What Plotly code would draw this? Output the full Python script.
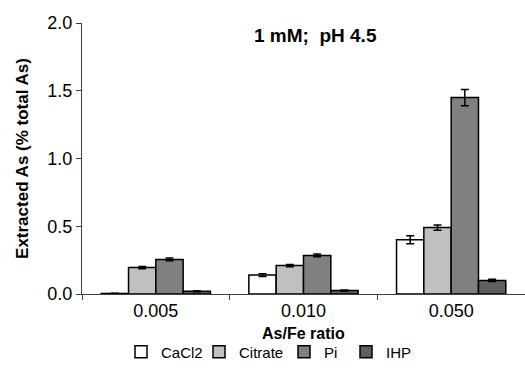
import plotly.graph_objects as go

categories = ["0.005", "0.010", "0.050"]
series_names = ["CaCl2", "Citrate", "Pi", "IHP"]
cacl2 = [0.004, 0.14, 0.40]
citrate = [0.195, 0.21, 0.49]
pi = [0.255, 0.285, 1.45]
ihp = [0.02, 0.025, 0.10]
cacl2_err = [0.002, 0.01, 0.03]
citrate_err = [0.008, 0.008, 0.02]
pi_err = [0.01, 0.01, 0.06]
ihp_err = [0.004, 0.004, 0.008]
colors = ["#ffffff", "#c0c0c0", "#808080", "#5f5f5f"]
x_title = "As/Fe ratio"
y_title = "Extracted As (% total As)"
chart_title = "1 mM;  pH 4.5"

legend_ids = ["legend", "legend2", "legend3", "legend4"]
legend_x_px = [121, 199, 284, 346]

fig = go.Figure()
for name, vals, errs, col, lid in zip(series_names, [cacl2, citrate, pi, ihp],
                                      [cacl2_err, citrate_err, pi_err, ihp_err],
                                      colors, legend_ids):
    fig.add_trace(go.Bar(
        name=name, x=categories, y=vals, legend=lid,
        marker=dict(color=col, line=dict(color="black", width=1.5)),
        error_y=dict(type="data", array=errs, color="black", thickness=1.5, width=4),
    ))

font_family = "Liberation Sans, Arial, sans-serif"
legend_common = dict(orientation="h", xref="container", xanchor="left",
                     y=0.03, yref="container", yanchor="bottom",
                     font=dict(size=15), itemwidth=30, bgcolor="rgba(0,0,0,0)")
fig.update_layout(
    width=525, height=380,
    margin=dict(l=82, r=0, t=23, b=86, autoexpand=False),
    plot_bgcolor="white", paper_bgcolor="white",
    barmode="group", bargap=0.26, bargroupgap=0,
    font=dict(family=font_family, size=18, color="black"),
    showlegend=True,
    annotations=[
        dict(text="<b>" + chart_title + "</b>", x=0.528, xref="paper", y=2.0, yref="y",
             yanchor="top", xanchor="center", showarrow=False, font=dict(size=19)),
        dict(text="<b>" + x_title + "</b>", x=0.5, xref="paper", y=-0.146, yref="paper",
             yanchor="middle", xanchor="center", showarrow=False, font=dict(size=16)),
    ],
)
for lid, xp in zip(legend_ids, legend_x_px):
    fig.update_layout({lid: dict(legend_common, x=xp / 525)})

fig.update_xaxes(
    type="category", showline=True, linecolor="#404040", linewidth=1,
    ticks="outside", tickson="boundaries", ticklen=5, tickcolor="#404040",
    showgrid=False,
)
fig.update_yaxes(
    range=[0, 2.0], tickvals=[0, 0.5, 1.0, 1.5, 2.0], tickformat=".1f",
    showline=True, linecolor="#404040", linewidth=1,
    ticks="outside", ticklen=5, tickcolor="#404040",
    title=dict(text="<b>" + y_title + "</b>", standoff=14, font=dict(size=17)),
    showgrid=False, zeroline=False, automargin=True,
)
fig.write_html("out.html")
